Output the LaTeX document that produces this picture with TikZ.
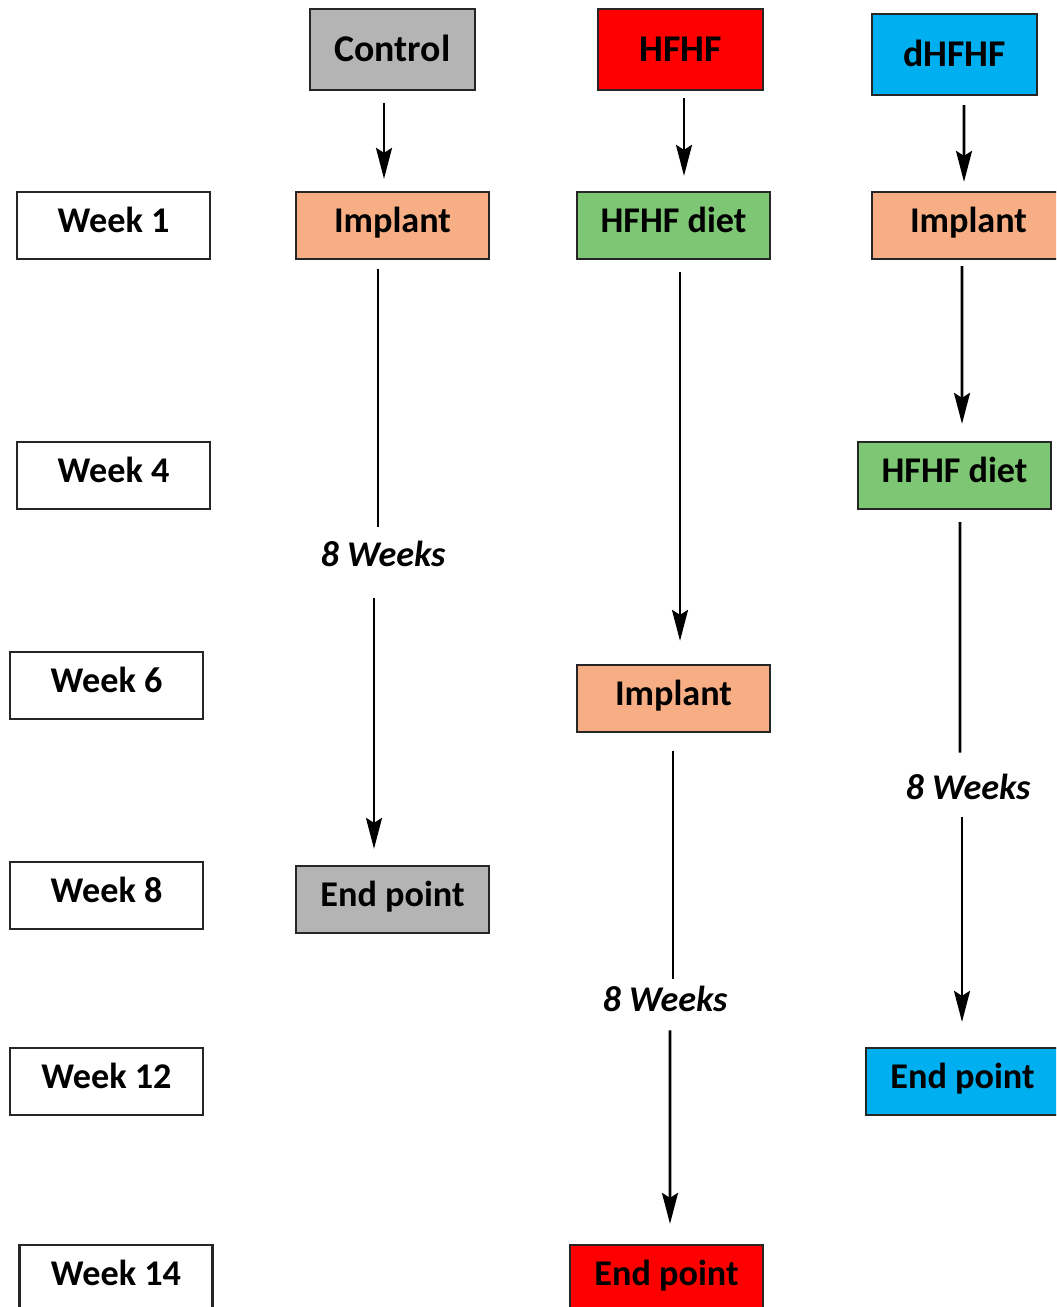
\documentclass[tikz,border=0pt]{standalone}
\usepackage{fontspec}
\setmainfont{Carlito}
\usetikzlibrary{arrows.meta,calc}
\definecolor{ctrlgray}{HTML}{B4B4B4}
\definecolor{hfred}{HTML}{FF0000}
\definecolor{dblue}{HTML}{00AFEF}
\definecolor{implant}{HTML}{F8AE84}
\definecolor{diet}{HTML}{7DC673}
\definecolor{edge}{HTML}{262626}
\tikzset{
	box/.style={draw=edge, line width=1.3pt, minimum width=3.86cm, minimum height=1.34cm, inner sep=0pt,
		font=\fontsize{20.6}{24}\selectfont\bfseries, text height=0.46cm, text depth=0.17cm},
	group/.style={box, minimum width=3.3cm, minimum height=1.62cm,
		font=\fontsize{21.5}{26}\selectfont\bfseries, text height=0.49cm, text depth=0pt},
	weeks/.style={inner sep=0pt, font=\fontsize{20.6}{24}\selectfont\bfseries\itshape, text height=0.46cm, text depth=0pt},
	flow/.style={line width=1.5pt, -{Stealth[length=0.62cm,width=0.32cm,inset=0.1cm]}},
	link/.style={line width=1.5pt},
}

\begin{document}
\begin{tikzpicture}[x=0.02cm, y=-0.02cm]
			%%%%% START %%%%%
			\clip (0, 0) rectangle (1056, 1307);
			
			\node[group, fill=ctrlgray] (ctrl) at (392.5, 49.5) {Control};
			\node[group, fill=hfred] (hfhf) at (680.5, 49.5) {HFHF};
			\node[group, fill=dblue] (dhfhf) at (954.5, 54.5) {dHFHF};
			
			\node[box] (week1) at (113.5, 225.5) {Week 1};
			\node[box] (week4) at (113.5, 475.5) {Week 4};
			\node[box] (week6) at (106.5, 685.5) {Week 6};
			\node[box] (week8) at (106.5, 895.5) {Week 8};
			\node[box] (week12) at (106.5, 1081.5) {Week 12};
			\node[box] (week14) at (116, 1278.5) {Week 14};
			
			\node[box, fill=implant] (ctrlImp) at (392.5, 225.5) {Implant};
			\node[weeks] (ctrlWk) at (383, 555) {8 Weeks};
			\node[box, fill=ctrlgray] (ctrlEnd) at (392.5, 899.5) {End point};
			
			\node[box, fill=diet] (hfDiet) at (673.5, 225.5) {HFHF diet};
			\node[box, fill=implant] (hfImp) at (673.5, 698.5) {Implant};
			\node[weeks] (hfWk) at (665, 1000) {8 Weeks};
			\node[box, fill=hfred] (hfEnd) at (666.5, 1278.5) {End point};
			
			\node[box, fill=implant] (dImp) at (968.5, 225.5) {Implant};
			\node[box, fill=diet] (dDiet) at (954.5, 475.5) {HFHF diet};
			\node[weeks] (dWk) at (968, 788) {8 Weeks};
			\node[box, fill=dblue] (dEnd) at (962.5, 1081.5) {End point};
			
			% control
			\draw[flow] ($(ctrl.south)+(-8.5, 12)$) -- ($(ctrlImp.north)+(-8.5, -12)$);
			\draw[link] ($(ctrlImp.south)+(-14.5, 9)$) -- ($(ctrlWk.north)+(-5, -16.5)$);
			\draw[flow] ($(ctrlWk.south)+(-9, 31.5)$) -- ($(ctrlEnd.north)+(-18.5, -16)$);
			
			% HFHF
			\draw[flow] ($(hfhf.south)+(3.5, 7)$) -- ($(hfDiet.north)+(10.5, -15)$);
			\draw[flow] ($(hfDiet.south)+(6.5, 12)$) -- ($(hfImp.north)+(6.5, -23)$);
			\draw[link] ($(hfImp.south)+(-0.5, 18)$) -- ($(hfWk.north)+(8, -9.5)$);
			\draw[flow] ($(hfWk.south)+(5, 18.5)$) -- ($(hfEnd.north)+(3.5, -20)$);
			
			% dHFHF
			\draw[flow] ($(dhfhf.south)+(9.5, 9)$) -- ($(dImp.north)+(-4.5, -9)$);
			\draw[flow] ($(dImp.south)+(-6.5, 6)$) -- ($(dDiet.north)+(7.5, -17)$);
			\draw[link] ($(dDiet.south)+(5.5, 12)$) -- ($(dWk.north)+(-8, -23.5)$);
			\draw[flow] ($(dWk.south)+(-6, 17.5)$) -- ($(dEnd.north)+(-0.5, -25)$);
			%%%%% END %%%%%
\end{tikzpicture}
\end{document}
